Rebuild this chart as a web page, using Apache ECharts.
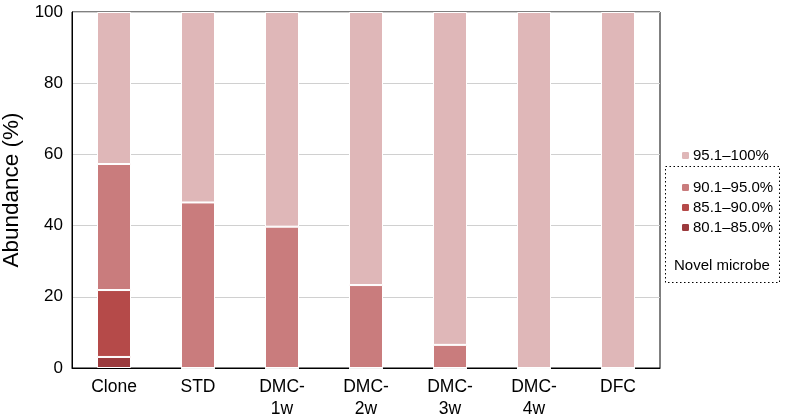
<!DOCTYPE html>
<html><head><meta charset="utf-8">
<script src="https://cdn.jsdelivr.net/npm/echarts@6/dist/echarts.min.js"></script>
<style>html,body{margin:0;padding:0;background:#fff}#c{width:788px;height:419px}</style>
</head><body><div id="c"></div>
<script>
const categories = ['Clone','STD','DMC-\n1w','DMC-\n2w','DMC-\n3w','DMC-\n4w','DFC'];
const s80 = [3.1, 0, 0, 0, 0, 0, 0];
const s85 = [18.8, 0, 0, 0, 0, 0, 0];
const s90 = [35.4, 46.5, 39.7, 23.3, 6.5, 0, 0];
const s95 = [42.7, 53.5, 60.3, 76.7, 93.5, 100, 100];
const yTicks = [0, 20, 40, 60, 80, 100];
const names = ['80.1–85.0%','85.1–90.0%','90.1–95.0%','95.1–100%'];
const colors = ['#9b3a3d','#b54a49','#c97c7d','#dfb7b8'];
const font = 'Liberation Sans, Arial, sans-serif';
const chart = echarts.init(document.getElementById('c'));
const mk = (name, data, color) => ({
  name, type: 'bar', stack: 'a', data, barWidth: 34,
  itemStyle: {color, borderColor: '#fff', borderWidth: 1},
  emphasis: {disabled: true}
});
chart.setOption({
  animation: false,
  grid: {left: 72, right: 128, top: 12, bottom: 51, show: true, borderColor: '#000', borderWidth: 1,
    backgroundColor: 'transparent', outerBoundsMode: 'none', containLabel: false},
  xAxis: {type: 'category', data: categories,
    axisLine: {lineStyle: {color: '#000'}}, axisTick: {show: false},
    axisLabel: {color: '#000', fontSize: 17.5, fontFamily: font, margin: 8, lineHeight: 22}},
  yAxis: {type: 'value', min: 0, max: 100, interval: 20,
    name: 'Abundance (%)', nameLocation: 'middle', nameGap: 48,
    nameTextStyle: {fontSize: 22.5, color: '#000', fontFamily: font},
    axisLine: {show: true, lineStyle: {color: '#000'}}, axisTick: {show: false},
    axisLabel: {color: '#000', fontSize: 17, fontFamily: font, margin: 9,
      formatter: v => yTicks.includes(v) ? String(v) : ''},
    splitLine: {lineStyle: {color: '#d0d0d0'}}},
  legend: [
    {data: [names[3]], orient: 'vertical', left: 675, top: 143, itemWidth: 9, itemHeight: 9,
     textStyle: {fontSize: 15, color: '#000', fontFamily: font, padding: [0,0,0,-2]}, selectedMode: false},
    {data: [names[2], names[1], names[0]], orient: 'vertical', left: 675, top: 175, itemWidth: 9, itemHeight: 9, itemGap: 5,
     textStyle: {fontSize: 15, color: '#000', fontFamily: font, padding: [0,0,0,-2]}, selectedMode: false}
  ],
  graphic: [
    {type: 'rect', shape: {x: 665.5, y: 166.5, width: 114, height: 116},
     style: {fill: 'none', stroke: '#000', lineWidth: 1, lineDash: [1.5, 2.5]}},
    {type: 'text', left: 674, top: 258, style: {text: 'Novel microbe', fontSize: 15, fill: '#000', fontFamily: font}}
  ],
  series: [mk(names[0], s80, colors[0]), mk(names[1], s85, colors[1]), mk(names[2], s90, colors[2]), mk(names[3], s95, colors[3])]
});
</script></body></html>
